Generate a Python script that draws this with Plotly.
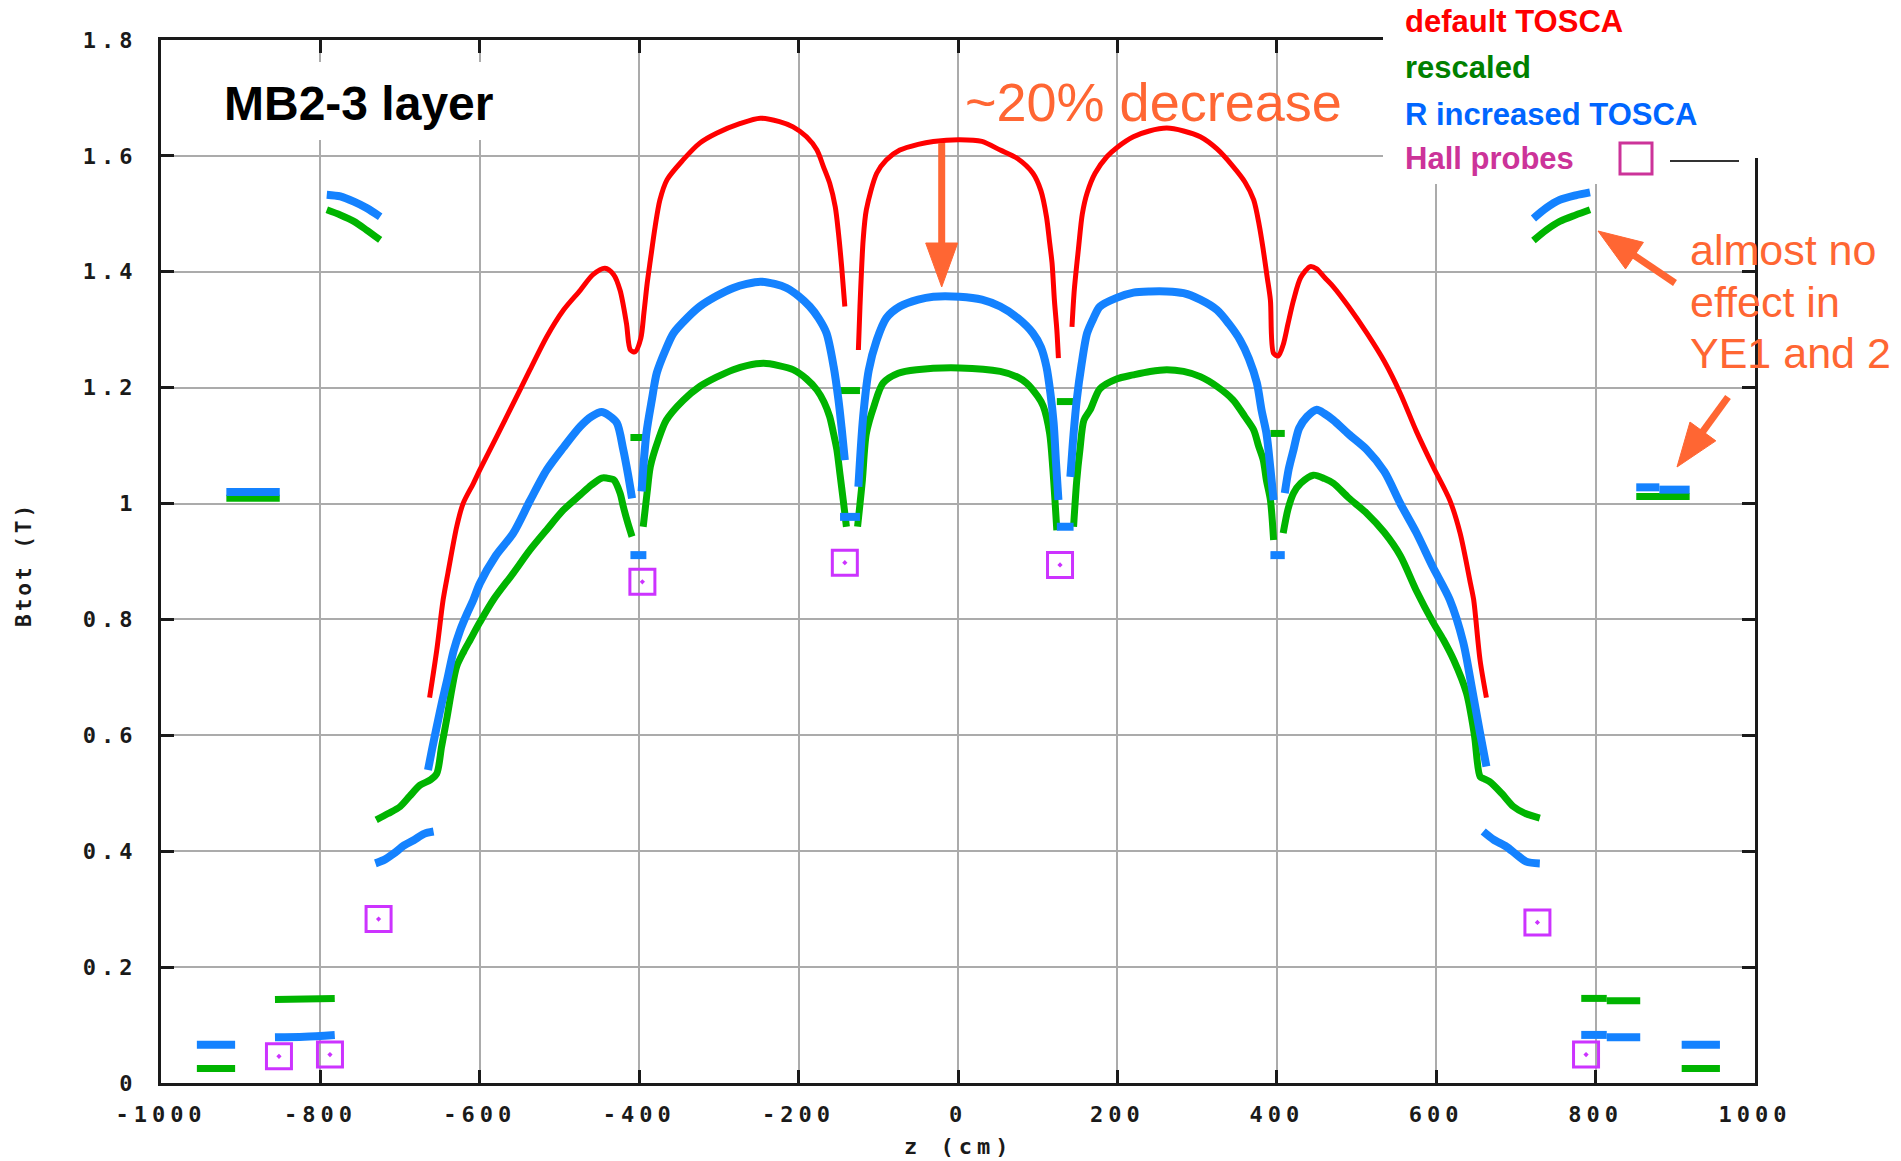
import plotly.graph_objects as go

# ---------------- data ----------------
red_z = [-663, -654, -646, -640, -629, -621, -608, -600, -579, -558, -537, -516, -495, -474, -458, -443, -432, -424, -416, -411,
         -405, -398, -394, -390, -386, -380, -374, -365, -345, -324, -303, -273, -248, -224, -207, -190, -177, -169, -161, -154,
         -150, -146, -142, None,
         -125, -123, -119, -115, -102, -90, -73, -50, -31, 2, 30, 53, 75, 94, 104, 111, 115, 118, 121, 124, 126, None,
         143, 146, 151, 156, 162, 172, 187, 200, 220, 240, 262, 283, 304, 325, 345, 360, 371, 378, 383, 388,
         392, 396, 402, 408, 414, 421, 430, 442, 450, 460, 471, 490, 513, 535, 555, 575, 596, 617, 630, 643,
         647, 655, 663]
red_b = [0.665, 0.747, 0.834, 0.88, 0.96, 1.0, 1.035, 1.058, 1.115, 1.173, 1.231, 1.288, 1.334, 1.368, 1.395, 1.406, 1.395, 1.368, 1.311, 1.265,
         1.262, 1.285, 1.33, 1.38, 1.42, 1.478, 1.524, 1.559, 1.593, 1.622, 1.639, 1.656, 1.665, 1.659, 1.65, 1.633, 1.61, 1.582, 1.553, 1.512,
         1.467, 1.409, 1.34, None,
         1.265, 1.34, 1.455, 1.507, 1.57, 1.593, 1.61, 1.62, 1.625, 1.628, 1.625, 1.61, 1.595, 1.57, 1.54, 1.495, 1.45, 1.415, 1.35, 1.30, 1.251, None,
         1.305, 1.37, 1.438, 1.50, 1.536, 1.57, 1.599, 1.615, 1.633, 1.643, 1.648, 1.643, 1.633, 1.612, 1.582, 1.555, 1.524, 1.48, 1.438, 1.39,
         1.351, 1.259, 1.255, 1.274, 1.31, 1.351, 1.39, 1.409, 1.405, 1.39, 1.374, 1.34, 1.294, 1.245, 1.19, 1.125, 1.064, 1.006, 0.949, 0.862,
         0.834, 0.73, 0.665]

blue_z = [-955, -907, None,
          -918, -851, None,
          -857, -820, -782, None,
          -792, -775, -758, -742, -725, None,
          -731, -720, -708, -695, -683, -670, -658, None,
          -665, -660, -654, -647, -641, -633, -625, -616, -608, -600, -580, -558, -537, -516, -495, -474, -460, -447, -438, -428, -420, -414, -409, None,
          -411, -391, None,
          -397, -391, -384, -378, -367, -357, -340, -324, -303, -282, -265, -248, -230, -215, -200, -186, -175, -165, -156, -150, -146, -142, None,
          -148, -123, None,
          -125, -119, -112, -102, -90, -73, -50, -31, 2, 30, 53, 75, 94, 104, 111, 116, 120, 123, 126, None,
          124, 145, None,
          141, 145, 149, 155, 162, 170, 178, 199, 220, 241, 262, 283, 304, 325, 340, 354, 365, 375, 381, 387, 392, 396, None,
          392, 410, None,
          410, 415, 421, 428, 438, 450, 460, 471, 490, 513, 535, 555, 575, 596, 617, 634, 645, 655, 663, None,
          659, 672, 688, 700, 713, 730, None,
          722, 738, 755, 775, 793, None,
          782, 814, None,
          814, 856, None,
          851, 880, None,
          880, 918, None,
          908, 956]
blue_b = [0.066, 0.066, None,
          1.02, 1.02, None,
          0.079, 0.080, 0.083, None,
          1.533, 1.53, 1.521, 1.51, 1.495, None,
          0.379, 0.385, 0.396, 0.41, 0.419, 0.43, 0.434, None,
          0.54, 0.575, 0.615, 0.66, 0.695, 0.745, 0.78, 0.81, 0.834, 0.862, 0.91, 0.949, 1.005, 1.058, 1.097, 1.133, 1.15, 1.158, 1.152, 1.139, 1.093, 1.05, 1.009, None,
          0.911, 0.911, None,
          1.021, 1.121, 1.18, 1.225, 1.265, 1.294, 1.32, 1.34, 1.358, 1.372, 1.379, 1.383, 1.379, 1.372, 1.358, 1.34, 1.32, 1.294, 1.236, 1.179, 1.13, 1.075, None,
          0.977, 0.977, None,
          1.029, 1.15, 1.23, 1.282, 1.32, 1.34, 1.352, 1.357, 1.357, 1.352, 1.34, 1.32, 1.294, 1.27, 1.236, 1.19, 1.139, 1.07, 1.006, None,
          0.96, 0.96, None,
          1.046, 1.12, 1.179, 1.24, 1.294, 1.32, 1.34, 1.355, 1.364, 1.366, 1.366, 1.363, 1.352, 1.334, 1.31, 1.282, 1.25, 1.208, 1.16, 1.121, 1.06, 1.006, None,
          0.911, 0.911, None,
          1.018, 1.06, 1.093, 1.13, 1.15, 1.162, 1.155, 1.144, 1.12, 1.093, 1.055, 1.0, 0.95, 0.89, 0.834, 0.76, 0.68, 0.604, 0.546, None,
          0.434, 0.42, 0.408, 0.395, 0.382, 0.379, None,
          1.492, 1.51, 1.524, 1.532, 1.537, None,
          0.083, 0.083, None,
          0.079, 0.079, None,
          1.028, 1.028, None,
          1.024, 1.024, None,
          0.066, 0.066]

green_z = [-955, -907, None,
           -918, -851, None,
           -857, -782, None,
           -792, -775, -758, -742, -725, None,
           -730, -715, -700, -688, -675, -662, -654, -648, -641, -635, -629, -620, -612, -600, -583, -558, -537, -516, -495, -474, -460, -447, -441, -432, -424, -420, -414, -409, None,
           -411, -391, None,
           -395, -390, -386, -376, -366, -345, -324, -303, -282, -265, -244, -225, -207, -190, -177, -168, -161, -156, -152, -148, -144, -140, None,
           -148, -123, None,
           -126, -120, -115, -105, -94, -75, -52, 2, 53, 75, 86, 100, 107, 115, 119, 124, None,
           124, 145, None,
           145, 149, 153, 158, 166, 178, 199, 220, 241, 262, 283, 304, 325, 345, 360, 371, 377, 383, 387, 392, 396, None,
           392, 410, None,
           408, 414, 421, 430, 446, 460, 471, 490, 513, 535, 555, 575, 596, 609, 622, 638, 648, 655, 660, 667, 682, 697, 712, 730, None,
           722, 738, 755, 775, 793, None,
           782, 814, None,
           814, 856, None,
           851, 918, None,
           908, 956]
green_b = [0.025, 0.025, None,
           1.009, 1.009, None,
           0.144, 0.146, None,
           1.507, 1.498, 1.487, 1.472, 1.455, None,
           0.454, 0.465, 0.477, 0.495, 0.514, 0.523, 0.534, 0.58, 0.632, 0.68, 0.719, 0.745, 0.765, 0.795, 0.834, 0.88, 0.92, 0.955, 0.989, 1.015, 1.032, 1.044, 1.044, 1.041, 1.018, 0.995, 0.965, 0.943, None,
           1.114, 1.114, None,
           0.96, 1.02, 1.064, 1.11, 1.144, 1.178, 1.202, 1.218, 1.231, 1.238, 1.242, 1.238, 1.231, 1.215, 1.196, 1.175, 1.15, 1.12, 1.093, 1.05, 1.006, 0.96, None,
           1.195, 1.195, None,
           0.96, 1.04, 1.121, 1.17, 1.208, 1.225, 1.231, 1.234, 1.228, 1.218, 1.208, 1.185, 1.168, 1.121, 1.06, 0.954, None,
           1.176, 1.176, None,
           0.96, 1.04, 1.093, 1.144, 1.162, 1.198, 1.215, 1.222, 1.228, 1.231, 1.228, 1.219, 1.202, 1.179, 1.15, 1.127, 1.1, 1.075, 1.04, 1.006, 0.937, None,
           1.121, 1.121, None,
           0.949, 0.99, 1.018, 1.035, 1.049, 1.043, 1.035, 1.01, 0.983, 0.95, 0.91, 0.85, 0.795, 0.765, 0.73, 0.673, 0.6, 0.529, 0.525, 0.52, 0.5, 0.477, 0.465, 0.457, None,
           1.454, 1.472, 1.487, 1.498, 1.507, None,
           0.146, 0.146, None,
           0.142, 0.142, None,
           1.012, 1.012, None,
           0.025, 0.025]

hall_z = [-852, -788, -727, -396, -142, 128, 727, 788]
hall_b = [0.046, 0.049, 0.283, 0.865, 0.898, 0.894, 0.277, 0.049]

x_ticks = [-1000, -800, -600, -400, -200, 0, 200, 400, 600, 800, 1000]
x_labels = ["-1000", "-800", "-600", "-400", "-200", "0", "200", "400", "600", "800", "1000"]
y_ticks = [0, 0.2, 0.4, 0.6, 0.8, 1.0, 1.2, 1.4, 1.6, 1.8]
y_labels = ["0", "0.2", "0.4", "0.6", "0.8", "1", "1.2", "1.4", "1.6", "1.8"]

legend_names = ["default TOSCA", "rescaled", "R increased TOSCA", "Hall probes"]

# ---------------- styling ----------------
RED = "#ff0000"
GREEN = "#00b400"
BLUE = "#1482ff"
HALL = "#cc33ff"
ORANGE = "#ff6633"
MONO = "DejaVu Sans Mono"
SANS = "Liberation Sans, Arial, sans-serif"

PL, PR, PT, PB = 161, 1755, 40, 1083


def px(x):
    return (x - PL) / (PR - PL)


def py(y):
    return (PB - y) / (PB - PT)


def spaced(s, sp=5):
    return f'<span style="letter-spacing:{sp}px">{s}</span>'


fig = go.Figure()
fig.add_trace(go.Scatter(x=red_z, y=red_b, mode="lines",
                         line=dict(color=RED, width=5, shape="spline", smoothing=0.8),
                         name=legend_names[0], connectgaps=False))
fig.add_trace(go.Scatter(x=green_z, y=green_b, mode="lines",
                         line=dict(color=GREEN, width=7, shape="spline", smoothing=0.8),
                         name=legend_names[1], connectgaps=False))
fig.add_trace(go.Scatter(x=blue_z, y=blue_b, mode="lines",
                         line=dict(color=BLUE, width=8, shape="spline", smoothing=0.8),
                         name=legend_names[2], connectgaps=False))
fig.add_trace(go.Scatter(x=hall_z, y=hall_b, mode="markers", name=legend_names[3],
                         marker=dict(symbol="square-open-dot", size=25, color=HALL,
                                     line=dict(color=HALL, width=3))))

axis_common = dict(
    showgrid=True, gridcolor="#ababab", gridwidth=2, zeroline=False,
    showline=True, linecolor="#1a1a1a", linewidth=3, mirror="ticks",
    ticks="inside", ticklen=13, tickwidth=3, tickcolor="#1a1a1a",
    tickfont=dict(family=MONO, size=22, color="#1a1a1a", weight="bold"),
    tickmode="array",
)
fig.update_xaxes(range=[-1000, 1000], tickvals=x_ticks,
                 ticktext=[spaced(t) for t in x_labels], ticklabelstandoff=10, **axis_common)
fig.update_yaxes(range=[0, 1.8], tickvals=y_ticks,
                 ticktext=[spaced(t) for t in y_labels], ticklabelstandoff=16, **axis_common)

shapes = []
annotations = []

# white boxes (title box and legend box)
shapes.append(dict(type="rect", xref="paper", yref="paper", x0=px(200), x1=px(518), y0=py(140), y1=py(62),
                   fillcolor="white", line=dict(width=0), layer="above"))
shapes.append(dict(type="rect", xref="paper", yref="paper", x0=px(1383), x1=px(1770), y0=py(158), y1=py(-5),
                   fillcolor="white", line=dict(width=0), layer="above"))
shapes.append(dict(type="rect", xref="paper", yref="paper", x0=px(1383), x1=px(1748), y0=py(184), y1=py(157),
                   fillcolor="white", line=dict(width=0), layer="above"))

# legend entries
legend_colors = ["#ff0000", "#008000", "#0066ff", "#cc3399"]
legend_y = [22, 68, 115, 158]
for name, col, yy in zip(legend_names, legend_colors, legend_y):
    annotations.append(dict(text=f"<b>{name}</b>", xref="paper", yref="paper", x=px(1403), y=py(yy),
                            xanchor="left", yanchor="middle", showarrow=False,
                            font=dict(family=SANS, size=31, color=col)))
shapes.append(dict(type="rect", xref="paper", yref="paper", x0=px(1620), x1=px(1652), y0=py(174), y1=py(143),
                   line=dict(color="#cc3399", width=3), fillcolor="rgba(0,0,0,0)", layer="above"))
shapes.append(dict(type="line", xref="paper", yref="paper", x0=px(1670), x1=px(1739), y0=py(161), y1=py(161),
                   line=dict(color="#333333", width=2), layer="above"))

# title box text
annotations.append(dict(text="<b>MB2-3 layer</b>", xref="paper", yref="paper", x=px(358), y=py(103),
                        xanchor="center", yanchor="middle", showarrow=False,
                        font=dict(family=SANS, size=48, color="black")))

# orange comments
annotations.append(dict(text="~20% decrease", xref="paper", yref="paper", x=px(1153), y=py(102),
                        xanchor="center", yanchor="middle", showarrow=False,
                        font=dict(family=SANS, size=54, color=ORANGE)))
for line_txt, base in zip(["almost no", "effect in", "YE1 and 2"], [265, 317, 368]):
    annotations.append(dict(text=line_txt, xref="paper", yref="paper", x=px(1688), y=py(base - 15),
                            xanchor="left", yanchor="middle", showarrow=False,
                            font=dict(family=SANS, size=43, color=ORANGE)))


def arrow(x0, y0, x1, y1, width=7, head_len=44, head_w=32):
    dx, dy = x1 - x0, y1 - y0
    L = (dx * dx + dy * dy) ** 0.5
    ux, uy = dx / L, dy / L
    bx, by = x1 - ux * head_len, y1 - uy * head_len
    nx, ny = -uy, ux
    shapes.append(dict(type="line", xref="paper", yref="paper", x0=px(x0), y0=py(y0), x1=px(bx + ux * 4), y1=py(by + uy * 4),
                       line=dict(color=ORANGE, width=width), layer="above"))
    p1 = (bx + nx * head_w / 2, by + ny * head_w / 2)
    p2 = (bx - nx * head_w / 2, by - ny * head_w / 2)
    path = f"M{px(x1)},{py(y1)} L{px(p1[0])},{py(p1[1])} L{px(p2[0])},{py(p2[1])} Z"
    shapes.append(dict(type="path", xref="paper", yref="paper", path=path,
                       fillcolor=ORANGE, line=dict(color=ORANGE, width=1), layer="above"))


arrow(941.7, 143, 941.7, 287)
arrow(1675, 283, 1598, 231)
arrow(1728, 397, 1677, 467)

# axis titles
annotations.append(dict(text=spaced("Btot (T)", 3), xref="paper", yref="paper", x=px(24), y=py(565),
                        xanchor="center", yanchor="middle", textangle=-90, showarrow=False,
                        font=dict(family=MONO, size=21, color="#1a1a1a", weight="bold")))
annotations.append(dict(text=spaced("z (cm)"), xref="paper", yref="paper", x=px(958), y=py(1146),
                        xanchor="center", yanchor="middle", showarrow=False,
                        font=dict(family=MONO, size=22, color="#1a1a1a", weight="bold")))

fig.update_layout(width=1901, height=1161, margin=dict(l=PL, r=1901 - PR, t=PT, b=1161 - PB),
                  paper_bgcolor="white", plot_bgcolor="white", showlegend=False,
                  shapes=shapes, annotations=annotations)

fig.write_html("out.html")
